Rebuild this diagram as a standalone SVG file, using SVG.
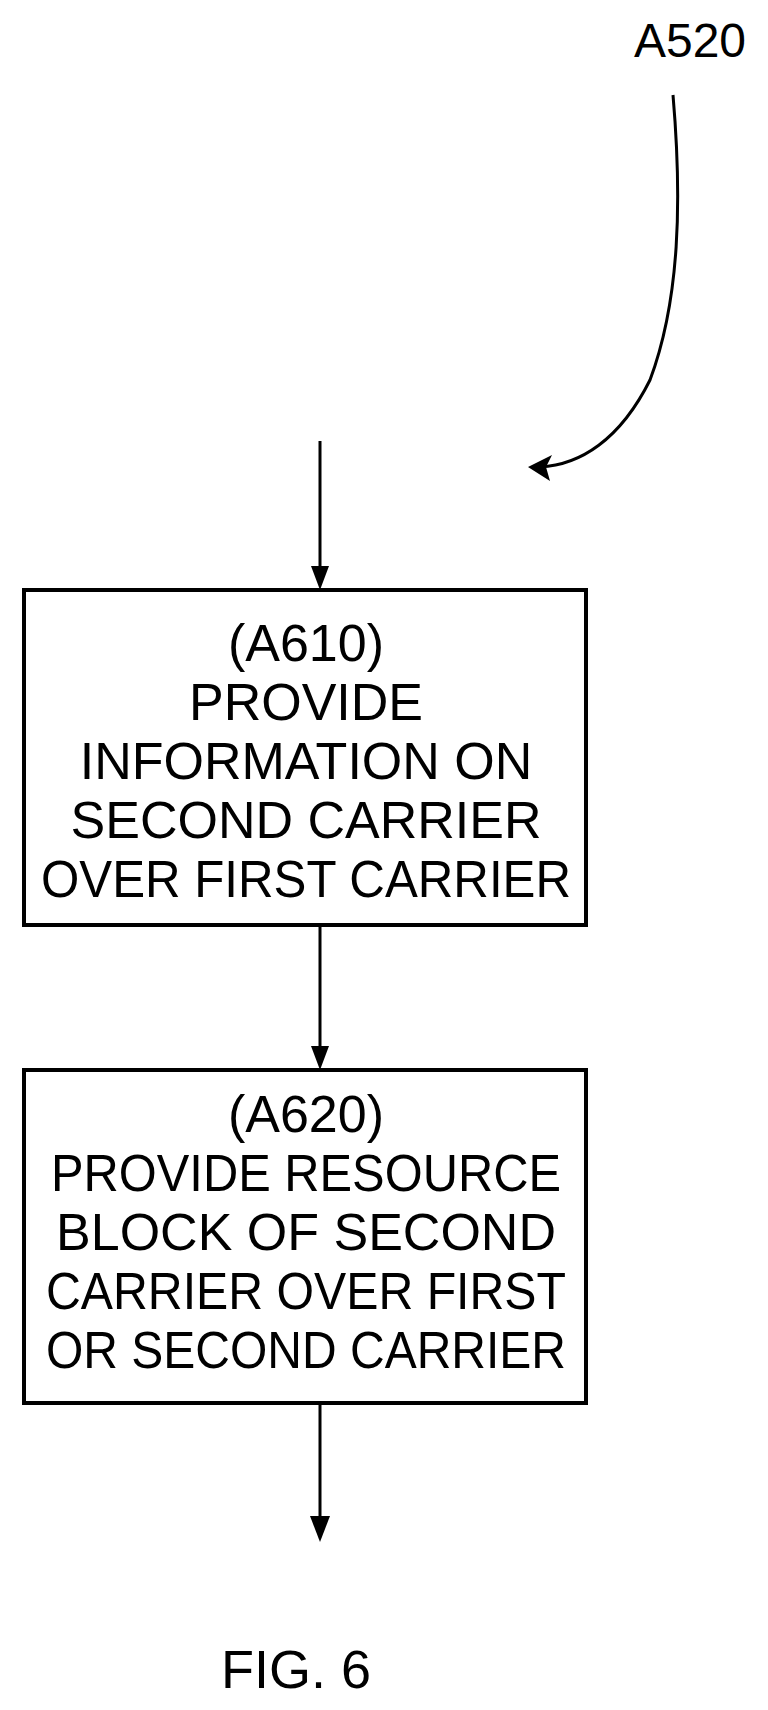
<svg xmlns="http://www.w3.org/2000/svg" width="768" height="1710" viewBox="0 0 768 1710">
<style>
text{font-family:"Liberation Sans",Arial,sans-serif;fill:#000;text-anchor:middle}
.t{font-size:52px}
.box{fill:#fff;stroke:#000;stroke-width:4}
.c{fill:none;stroke:#000;stroke-width:3}
</style>
<text x="690" y="57" style="font-size:48px">A520</text>
<g id="connectors">
<path class="c" d="M673,95 C682,200 680,300 650,380 C620,440 580,465 540,467"/>
<path d="M528,467 L552,455 L546,467 L550,481 Z"/>
<line class="c" x1="320" y1="441" x2="320" y2="572"/>
<path d="M311,566 L320,590 L329,566 Z"/>
<line class="c" x1="320" y1="925" x2="320" y2="1052"/>
<path d="M311,1046 L320,1070 L329,1046 Z"/>
<line class="c" x1="320" y1="1403" x2="320" y2="1520"/>
<path d="M310,1516 L320,1542 L330,1516 Z"/>
</g>
<g id="A610">
<rect class="box" x="24" y="590" width="562" height="335"/>
<text class="t" x="306" y="661">(A610)</text>
<text class="t" x="306" y="720">PROVIDE</text>
<text class="t" x="306" y="779">INFORMATION ON</text>
<text class="t" x="306" y="838">SECOND CARRIER</text>
<text class="t" x="306" y="897" textLength="530" lengthAdjust="spacingAndGlyphs">OVER FIRST CARRIER</text>
</g>
<g id="A620">
<rect class="box" x="24" y="1070" width="562" height="333"/>
<text class="t" x="306" y="1132">(A620)</text>
<text class="t" x="306" y="1191" textLength="510" lengthAdjust="spacingAndGlyphs">PROVIDE RESOURCE</text>
<text class="t" x="306" y="1250">BLOCK OF SECOND</text>
<text class="t" x="306" y="1309" textLength="520" lengthAdjust="spacingAndGlyphs">CARRIER OVER FIRST</text>
<text class="t" x="306" y="1368" textLength="520" lengthAdjust="spacingAndGlyphs">OR SECOND CARRIER</text>
</g>
<text x="296" y="1688" style="font-size:54px">FIG. 6</text>
</svg>
